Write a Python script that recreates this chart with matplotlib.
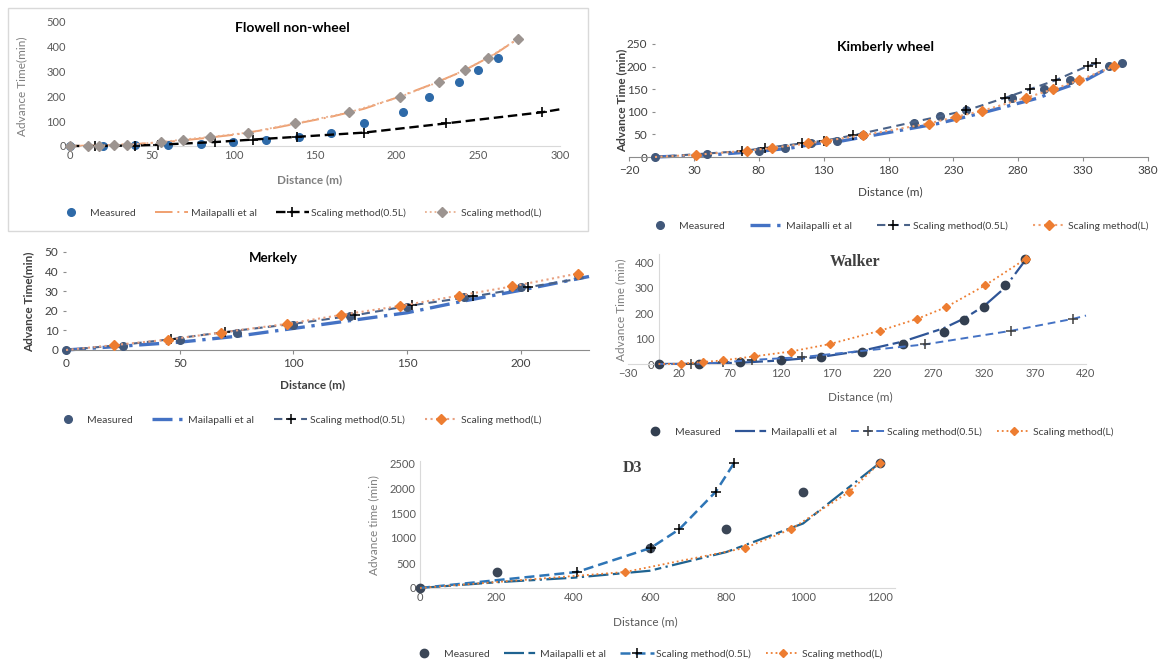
import matplotlib
matplotlib.use("Agg")
import matplotlib.pyplot as plt
from matplotlib.lines import Line2D
from matplotlib.patches import Rectangle

plt.rcParams['font.family'] = ['Lato', 'DejaVu Sans']

# ---------------- data ----------------
labels = ['Measured', 'Mailapalli et al', 'Scaling method(0.5L)', 'Scaling method(L)']

# Flowell non-wheel
fl_meas_x = [0, 20, 40, 60, 80, 100, 120, 140, 160, 180, 204, 220, 238, 250, 262]
fl_meas_y = [0, 0, 3, 5, 7, 16, 26, 37, 54, 91, 138, 198, 259, 308, 356]
fl_mai_x = [0, 20, 40, 60, 80, 100, 120, 140, 160, 180, 200, 220, 240, 260, 274]
fl_mai_y = [0, 3, 8, 17, 30, 45, 66, 92, 118, 150, 195, 245, 300, 370, 431]
fl_half_x = [0, 15, 40, 54, 89, 112, 139, 180, 230, 289, 300]
fl_half_y = [0, 0, 2, 5, 16, 26, 37, 54, 91, 136, 148]
fl_L_x = [0, 11, 18, 27, 35, 56, 69, 86, 109, 138, 171, 202, 226, 242, 256, 274]
fl_L_y = [0, 0, 2, 4, 5, 16, 26, 37, 54, 91, 136, 198, 259, 308, 356, 431]

# Kimberly wheel
ki_meas_x = [0, 40, 80, 100, 120, 140, 160, 200, 220, 240, 275, 300, 320, 350, 360]
ki_meas_y = [0, 6, 14, 20, 30, 36, 48, 75, 90, 103, 130, 150, 170, 201, 207]
ki_mai_x = [0, 45, 85, 105, 125, 145, 168, 218, 240, 258, 296, 312, 332, 352]
ki_mai_y = [0, 5, 14, 20, 30, 36, 48, 74, 89, 102, 131, 150, 170, 201]
ki_half_x = [0, 67, 85, 113, 130, 153, 240, 270, 289, 309, 334, 340]
ki_half_y = [0, 13, 20, 30, 36, 48, 103, 131, 150, 170, 202, 207]
ki_L_x = [0, 32, 71, 90, 118, 132, 160, 211, 232, 252, 286, 307, 327, 354]
ki_L_y = [0, 5, 14, 20, 30, 36, 48, 74, 89, 102, 131, 150, 170, 201]

# Merkely
me_meas_x = [0, 25, 50, 75, 100, 125, 150, 175, 200, 225]
me_meas_y = [0, 2, 5, 8.5, 13, 17.5, 22, 27, 32, 38.5]
me_mai_x = [0, 50, 75, 100, 125, 150, 175, 200, 230]
me_mai_y = [0, 4, 7, 11, 15, 19, 25, 30.5, 37.5]
me_half_x = [0, 23, 46, 70, 99, 127, 152, 179, 203, 230]
me_half_y = [0, 2.4, 5.5, 9.2, 13.2, 17.7, 22.8, 27.3, 32, 37.2]
me_L_x = [0, 21, 45, 68, 97, 121, 147, 173, 196, 225]
me_L_y = [0, 2.5, 5.3, 8.9, 13.3, 17.9, 22.5, 27.8, 32.4, 39]

# Walker
wa_meas_x = [0, 40, 80, 120, 160, 200, 240, 280, 300, 320, 340, 360]
wa_meas_y = [0, 0, 6, 15, 27, 48, 77, 125, 173, 222, 308, 413]
wa_mai_x = [0, 40, 80, 120, 160, 200, 240, 280, 300, 320, 340, 360]
wa_mai_y = [0, 1, 5, 14, 28, 52, 88, 140, 178, 228, 298, 405]
wa_half_x = [0, 32, 63, 92, 141, 262, 346, 407, 420]
wa_half_y = [0, 0, 6, 16, 27, 77, 130, 177, 190]
wa_L_x = [0, 22, 44, 63, 94, 130, 168, 218, 254, 282, 321, 361]
wa_L_y = [0, 1, 8, 14, 30, 49, 78, 131, 177, 222, 309, 413]

# D3
d3_meas_x = [0, 200, 600, 800, 1000, 1200]
d3_meas_y = [0, 320, 800, 1175, 1925, 2500]
d3_mai_x = [0, 200, 400, 600, 800, 1000, 1200]
d3_mai_y = [0, 115, 205, 345, 720, 1290, 2500]
d3_half_x = [0, 410, 602, 677, 772, 820]
d3_half_y = [0, 320, 800, 1175, 1925, 2500]
d3_L_x = [0, 535, 848, 968, 1121, 1200]
d3_L_y = [0, 320, 800, 1175, 1925, 2500]

# ---------------- figure helpers ----------------
W, H = 1162, 661
fig = plt.figure(figsize=(W / 100, H / 100), dpi=100)


def fx(px):
    return px / W


def fy(py):
    return 1 - py / H


def make_axes(x_lo, x_hi, px_lo, px_hi, y_lo, y_hi, py_lo, py_hi):
    """Axes whose data limits map onto the given pixel positions."""
    ax = fig.add_axes([fx(px_lo), fy(py_lo), (px_hi - px_lo) / W, (py_lo - py_hi) / H])
    ax.set_xlim(x_lo, x_hi)
    ax.set_ylim(y_lo, y_hi)
    ax.patch.set_alpha(0)
    for s in ax.spines.values():
        s.set_visible(False)
    return ax


def series(ax, x, y, style, markevery=None):
    ln = Line2D([0], [0], **style)
    ax.plot(x, y, clip_on=False, markevery=markevery, **style)
    return ln


def finish(ax, xticks, yticks, xtick_len, ytick_len, spine_color, left_spine, labelcolor='#595959'):
    ax.set_xticks(xticks)
    ax.set_yticks(yticks)
    ax.tick_params(labelsize=8, labelcolor=labelcolor, color=spine_color, width=0.8, pad=3)
    ax.tick_params(axis='x', length=xtick_len)
    ax.tick_params(axis='y', length=ytick_len)
    ax.spines['bottom'].set_visible(True)
    ax.spines['bottom'].set_color(spine_color)
    ax.spines['bottom'].set_position(('data', 0))
    # vertical axis crosses the horizontal one at x = 0
    ax.spines['left'].set_position(('data', 0))
    if left_spine:
        ax.spines['left'].set_visible(True)
        ax.spines['left'].set_color(spine_color)


def legend(ax, handles, cx, cy, colsp=1.4):
    ax.legend(handles, labels, loc='center', bbox_to_anchor=(fx(cx), fy(cy)),
              bbox_transform=fig.transFigure, ncol=4, frameon=False, fontsize=7.5,
              handlelength=3.2, handletextpad=0.25, columnspacing=colsp,
              labelcolor='#404040', numpoints=1)


def txt(px, py, s, **kw):
    fig.text(fx(px), fy(py), s, ha='center', va='center', **kw)


dashdot_long = (0, (9, 2.5, 1, 2.5))
dashdot_mix = (0, (9, 2, 3, 2, 1, 2))

# ---------------- Flowell non-wheel ----------------
fig.patches.append(Rectangle((fx(8), fy(231)), 580 / W, 223 / H, transform=fig.transFigure,
                             fill=False, ec='#D9D9D9', lw=1))
ax = make_axes(0, 300, 70, 560, 0, 500, 146, 22)
h = [
    series(ax, fl_meas_x, fl_meas_y, dict(ls='none', marker='o', ms=5.5, color='#2E6AA8', zorder=3)),
    series(ax, fl_mai_x, fl_mai_y, dict(ls=dashdot_long, lw=1.4, color='#F0A070', zorder=2)),
    series(ax, fl_half_x, fl_half_y, dict(ls=(0, (4, 2)), lw=1.7, color='black', marker='+',
                                          ms=7, mew=1.2, zorder=4), markevery=list(range(1, 10))),
    series(ax, fl_L_x, fl_L_y, dict(ls=':', lw=1.3, color='#E8B090', marker='D', ms=5,
                                    mfc='#9C9490', mec='#9C9490', zorder=5)),
]
finish(ax, range(0, 301, 50), range(0, 501, 100), 0, 0, '#D9D9D9', False)
legend(ax, h, 298, 213, colsp=1.8)
txt(292, 28, 'Flowell non-wheel', fontsize=10, fontweight='bold', color='black')
txt(22, 86, 'Advance Time(min)', rotation=90, fontsize=8.5, color='#7F7F7F')
txt(310, 180, 'Distance (m)', fontsize=8.5, fontweight='bold', color='#7F7F7F')

# ---------------- Kimberly wheel ----------------
ax = make_axes(-20, 380, 629, 1148, 0, 250, 157, 44)
h = [
    series(ax, ki_meas_x, ki_meas_y, dict(ls='none', marker='o', ms=5.5, color='#41587A', zorder=3)),
    series(ax, ki_mai_x, ki_mai_y, dict(ls=(0, (6, 2, 1, 2)), lw=2.4, color='#4472C4', zorder=2)),
    series(ax, ki_half_x, ki_half_y, dict(ls=(0, (4, 2.5)), lw=1.5, color='#4A6288', marker='+',
                                          ms=7, mew=1.1, mec='black', zorder=4), markevery=list(range(1, 12))),
    series(ax, ki_L_x, ki_L_y, dict(ls=':', lw=1.5, color='#F0A070', marker='D', ms=5.5,
                                    mfc='#ED7D31', mec='#ED7D31', zorder=5), markevery=list(range(1, 14))),
]
finish(ax, range(-20, 381, 50), range(0, 251, 50), 3, 2.5, '#8C8C8C', False, '#404040')
ax.tick_params(labelsize=8.5)
legend(ax, h, 896, 226, colsp=2.4)
txt(886, 47, 'Kimberly wheel', fontsize=10, fontweight='bold', color='black')
txt(622, 100, 'Advance Time (min)', rotation=90, fontsize=8.5, fontweight='bold', color='#404040')
txt(890, 192, 'Distance (m)', fontsize=8.5, color='#404040')

# ---------------- Merkely ----------------
ax = make_axes(0, 230, 66, 589, 0, 50, 350, 252)
h = [
    series(ax, me_meas_x, me_meas_y, dict(ls='none', marker='o', ms=5.5, color='#41587A', zorder=3)),
    series(ax, me_mai_x, me_mai_y, dict(ls=(0, (6, 2, 1, 2)), lw=2.4, color='#4472C4', zorder=2)),
    series(ax, me_half_x, me_half_y, dict(ls=(0, (4, 2.5)), lw=1.5, color='#4A6288', marker='+',
                                          ms=7, mew=1.1, mec='black', zorder=4), markevery=[2, 3, 5, 6, 7, 8]),
    series(ax, me_L_x, me_L_y, dict(ls=':', lw=1.5, color='#E8A080', marker='D', ms=5.5,
                                    mfc='#ED7D31', mec='#ED7D31', zorder=5), markevery=list(range(1, 10))),
]
finish(ax, range(0, 201, 50), range(0, 51, 10), 3, 2.5, '#8C8C8C', False, '#404040')
ax.tick_params(labelsize=8.5)
legend(ax, h, 296, 420, colsp=1.9)
txt(273, 258, 'Merkely', fontsize=9.5, fontweight='bold', color='black')
txt(29, 302, 'Advance Time(min)', rotation=90, fontsize=8.5, fontweight='bold', color='#404040')
txt(313, 385, 'Distance (m)', fontsize=8.5, fontweight='bold', color='#404040')

# ---------------- Walker ----------------
ax = make_axes(-30, 420, 628, 1086, 0, 430, 364, 254.4)
h = [
    series(ax, wa_meas_x, wa_meas_y, dict(ls='none', marker='o', ms=6, color='#333F50', zorder=3)),
    series(ax, wa_mai_x, wa_mai_y, dict(ls=dashdot_mix, lw=1.6, color='#2F5597', zorder=2)),
    series(ax, wa_half_x, wa_half_y, dict(ls=(0, (4, 2.5)), lw=1.4, color='#4472C4', marker='+',
                                          ms=7, mew=1.1, mec='#404040', zorder=4), markevery=list(range(1, 8))),
    series(ax, wa_L_x, wa_L_y, dict(ls=':', lw=1.3, color='#ED7D31', marker='D', ms=4.5,
                                    mfc='#ED7D31', mec='#ED7D31', zorder=5), markevery=list(range(1, 12))),
]
finish(ax, range(-30, 421, 50), range(0, 401, 100), 0, 0, '#D9D9D9', True)
legend(ax, h, 876, 432)
txt(855, 262, 'Walker', fontsize=11.5, fontweight='bold', color='#404040', family='Liberation Serif')
txt(621, 310, 'Advance Time (min)', rotation=90, fontsize=8.5, color='#7F7F7F')
txt(860, 397, 'Distance (m)', fontsize=8.5, color='#595959')

# ---------------- D3 ----------------
ax = make_axes(0, 1240, 420, 895, 0, 2550, 588, 460.5)
h = [
    series(ax, d3_meas_x, d3_meas_y, dict(ls='none', marker='o', ms=6, color='#3B4656', zorder=3)),
    series(ax, d3_mai_x, d3_mai_y, dict(ls=dashdot_mix, lw=1.6, color='#1F6391', zorder=2)),
    series(ax, d3_half_x, d3_half_y, dict(ls=(0, (4, 2)), lw=1.8, color='#2E75B6', marker='+',
                                          ms=7, mew=1.1, mec='black', zorder=4), markevery=list(range(1, 6))),
    series(ax, d3_L_x, d3_L_y, dict(ls=':', lw=1.3, color='#ED7D31', marker='D', ms=4.5,
                                    mfc='#ED7D31', mec='#ED7D31', zorder=5), markevery=list(range(1, 6))),
]
finish(ax, range(0, 1201, 200), range(0, 2501, 500), 0, 0, '#D9D9D9', True)
legend(ax, h, 645, 654)
txt(632, 468, 'D3', fontsize=11.5, fontweight='bold', color='#404040', family='Liberation Serif')
txt(374, 525, 'Advance time (min)', rotation=90, fontsize=8.5, color='#7F7F7F')
txt(645, 622, 'Distance (m)', fontsize=8.5, color='#595959')

fig.savefig('out.png', dpi=100)
